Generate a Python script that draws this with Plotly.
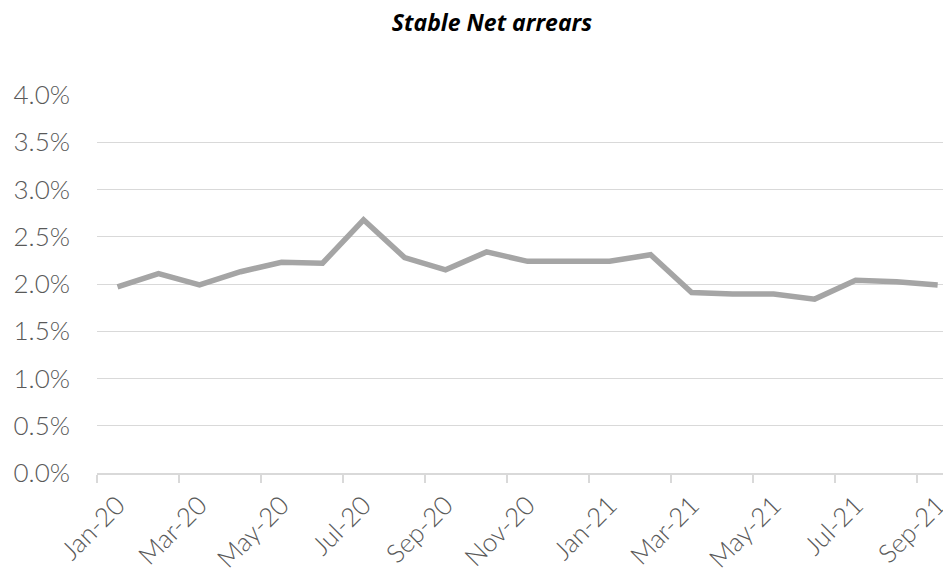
import plotly.graph_objects as go

months = ["Jan-20", "Feb-20", "Mar-20", "Apr-20", "May-20", "Jun-20", "Jul-20",
          "Aug-20", "Sep-20", "Oct-20", "Nov-20", "Dec-20", "Jan-21", "Feb-21",
          "Mar-21", "Apr-21", "May-21", "Jun-21", "Jul-21", "Aug-21", "Sep-21"]
net_arrears = [0.0197, 0.0211, 0.0199, 0.0213, 0.0223, 0.0222, 0.0268,
               0.0228, 0.0215, 0.0234, 0.0224, 0.0224, 0.0224, 0.0231,
               0.0191, 0.01895, 0.01895, 0.0184, 0.0204, 0.02025, 0.0199]
y_ticks = [0, 0.005, 0.01, 0.015, 0.02, 0.025, 0.03, 0.035, 0.04]

# page body has an 8px margin; size the figure so it fits without scrollbars
W, H = 935, 560
fig = go.Figure()
fig.add_trace(go.Scatter(
    x=months, y=net_arrears, mode="lines",
    line=dict(color="#a5a5a5", width=5.5),
    hoverinfo="skip", showlegend=False,
))

tick_font = dict(family="Lato, Open Sans, sans-serif", size=26, color="#595959",
                 weight=300)

fig.update_layout(
    width=W, height=H,
    paper_bgcolor="white", plot_bgcolor="white",
    margin=dict(l=89, r=0, t=87, b=95, autoexpand=False),
    title=dict(
        text="<b><i>Stable Net arrears</i></b>",
        font=dict(family="Open Sans, sans-serif", size=23, color="black"),
        x=484 / W, xanchor="center", xref="container",
        y=1 - 15 / H, yanchor="middle", yref="container",
    ),
    xaxis=dict(
        type="category",
        range=[-0.5, 20.13],
        tickmode="linear", tick0=0, dtick=2,
        tickson="boundaries",
        ticks="outside", ticklen=8, tickcolor="#d9d9d9", tickwidth=1.5,
        showline=True, linecolor="#d9d9d9", linewidth=1.5,
        showgrid=False,
        tickangle=-45,
        ticklabelstandoff=5,
        tickfont=tick_font,
    ),
    yaxis=dict(
        range=[0, 0.04],
        tickvals=y_ticks,
        tickformat=".1%",
        showgrid=True, gridcolor="#d9d9d9", gridwidth=1.3,
        zeroline=False, showline=False,
        ticks="", ticklabelstandoff=26,
        tickfont=tick_font,
    ),
)

fig.write_html("out.html")
